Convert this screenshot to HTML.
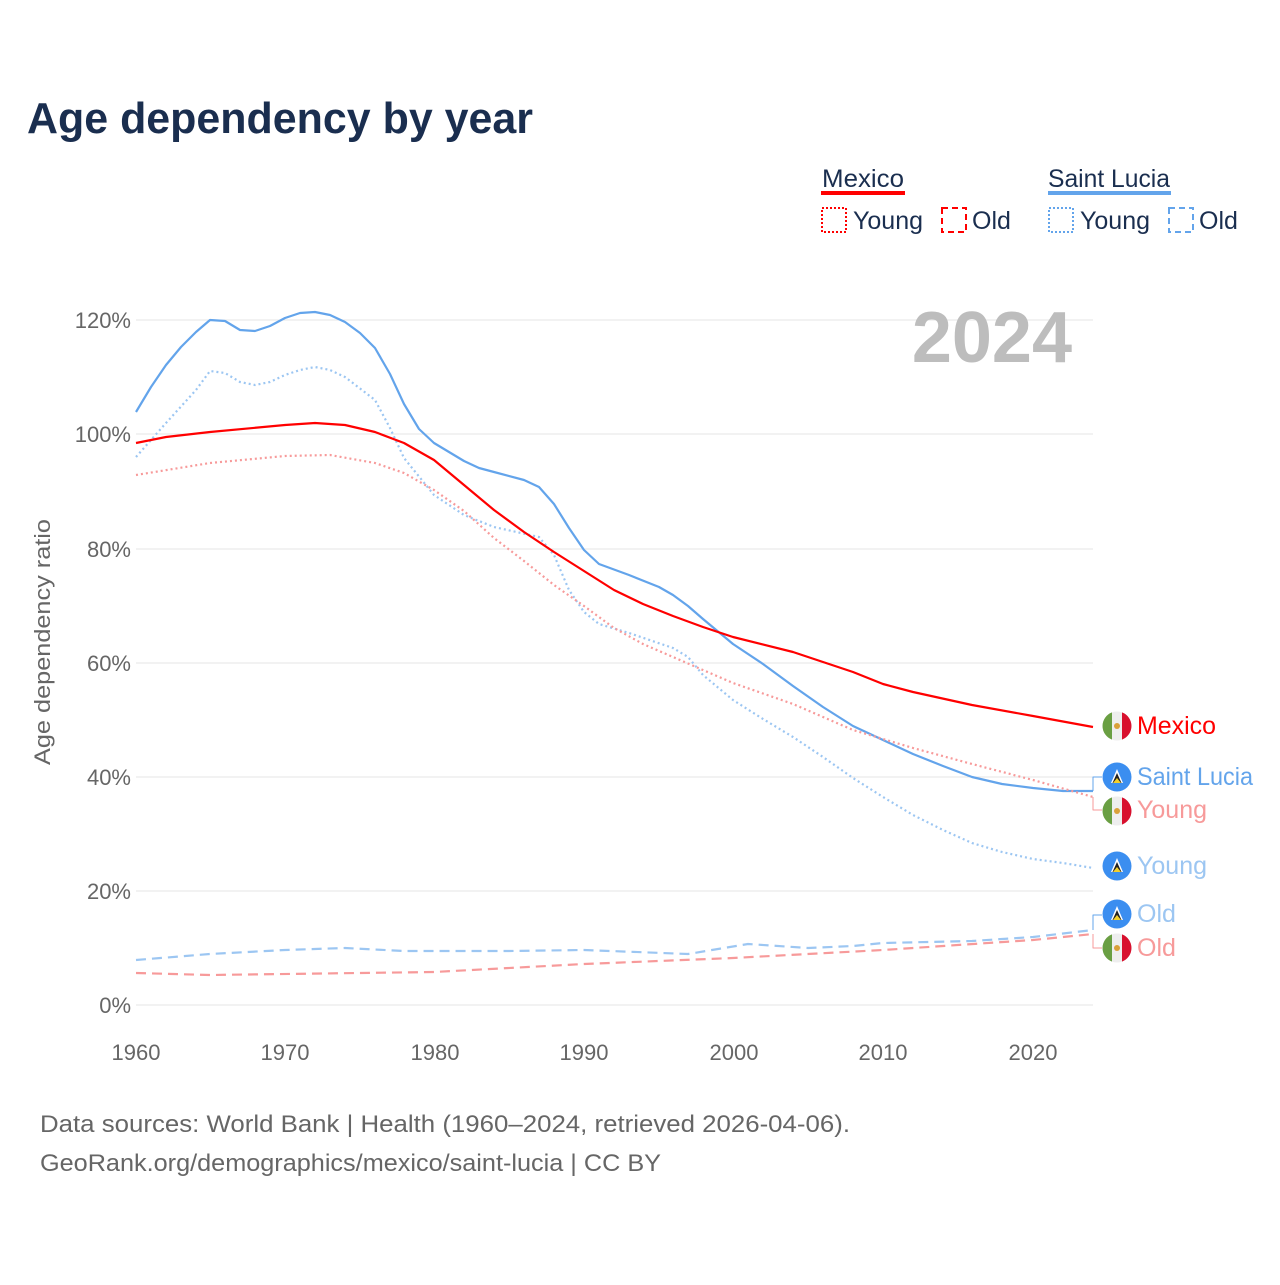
<!DOCTYPE html>
<html><head><meta charset="utf-8"><style>
body{margin:0;background:#fff;width:1280px;height:1280px;overflow:hidden;font-family:"Liberation Sans",sans-serif}
</style></head><body>
<svg width="1280" height="1280" xmlns="http://www.w3.org/2000/svg" font-family="Liberation Sans, sans-serif">
<text x="27" y="133" font-size="44" font-weight="bold" fill="#1a2e4f" textLength="506" lengthAdjust="spacingAndGlyphs">Age dependency by year</text>
<!-- legend -->
<text x="822" y="187" font-size="25" fill="#1a2e4f" textLength="82" lengthAdjust="spacingAndGlyphs">Mexico</text>
<rect x="821" y="191" width="84" height="4" fill="#ff0000"/>
<text x="1048" y="187" font-size="25" fill="#1a2e4f" textLength="122" lengthAdjust="spacingAndGlyphs">Saint Lucia</text>
<rect x="1048" y="191" width="123" height="4" fill="#63a4eb"/>
<rect x="822" y="208" width="24" height="24" fill="none" stroke="#ff0000" stroke-width="2" stroke-dasharray="2,2"/>
<text x="853" y="229" font-size="25" fill="#1a2e4f">Young</text>
<rect x="942" y="208" width="24" height="24" fill="none" stroke="#ff0000" stroke-width="2" stroke-dasharray="6,4"/>
<text x="972" y="229" font-size="25" fill="#1a2e4f">Old</text>
<rect x="1049" y="208" width="24" height="24" fill="none" stroke="#63a4eb" stroke-width="2" stroke-dasharray="2,2"/>
<text x="1080" y="229" font-size="25" fill="#1a2e4f">Young</text>
<rect x="1169" y="208" width="24" height="24" fill="none" stroke="#63a4eb" stroke-width="2" stroke-dasharray="6,4"/>
<text x="1199" y="229" font-size="25" fill="#1a2e4f">Old</text>
<!-- grid -->
<g stroke="#e6e6e6" stroke-width="1">
<line x1="136" x2="1093" y1="320" y2="320"/><line x1="136" x2="1093" y1="434" y2="434"/>
<line x1="136" x2="1093" y1="549" y2="549"/><line x1="136" x2="1093" y1="663" y2="663"/>
<line x1="136" x2="1093" y1="777" y2="777"/><line x1="136" x2="1093" y1="891" y2="891"/>
<line x1="136" x2="1093" y1="1005" y2="1005"/>
</g>
<g font-size="22" fill="#666" text-anchor="end">
<text x="131" y="328">120%</text><text x="131" y="442">100%</text><text x="131" y="557">80%</text>
<text x="131" y="671">60%</text><text x="131" y="785">40%</text><text x="131" y="899">20%</text><text x="131" y="1013">0%</text>
</g>
<g font-size="22" fill="#666" text-anchor="middle">
<text x="136" y="1060">1960</text><text x="285" y="1060">1970</text><text x="435" y="1060">1980</text>
<text x="584" y="1060">1990</text><text x="734" y="1060">2000</text><text x="883" y="1060">2010</text><text x="1033" y="1060">2020</text>
</g>
<text transform="translate(50,642) rotate(-90)" font-size="22" fill="#666" text-anchor="middle" textLength="246" lengthAdjust="spacingAndGlyphs">Age dependency ratio</text>
<text x="1072" y="362" font-size="72" font-weight="bold" fill="#bdbdbd" text-anchor="end">2024</text>
<g fill="none" stroke-width="2.2" stroke-linejoin="round">
<polyline stroke="#63a4eb" points="136,412 151,387 166,365 181,347 196,332 210,320 225,321 240,330 255,331 270,326 285,318 300,313 315,312 330,315 345,322 360,333 375,348 390,374 404,404 419,429 434,443 449,452 464,461 479,468 494,472 524,480 539,487 554,504 569,528 584,550 599,564 629,575 659,587 673,595 688,606 703,619 733,644 763,664 793,686 823,707 853,726 883,740 913,754 943,766 972,777 1002,784 1033,788 1063,791 1093,791"/>
<polyline stroke="#9cc6f2" stroke-dasharray="2,3" points="136,457 166,423 196,390 210,371 225,373 240,382 255,385 270,382 285,375 300,370 315,367 330,370 345,377 375,400 390,428 404,458 434,495 464,515 494,527 539,537 554,555 569,590 584,612 599,624 629,633 673,648 688,657 703,675 733,700 763,719 793,737 823,757 853,778 883,797 913,815 943,830 972,843 1002,852 1033,859 1063,863 1093,868"/>
<polyline stroke="#ff0000" points="136,443 166,437 210,432 285,425 315,423 345,425 375,432 404,443 434,460 464,485 494,510 524,532 554,552 584,571 614,590 643,604 673,616 703,627 733,637 793,652 853,672 883,684 913,692 972,705 1033,716 1093,727"/>
<polyline stroke="#f79a9a" stroke-dasharray="2,3" points="136,475 210,463 285,456 330,455 375,463 404,473 434,490 464,511 494,538 524,561 554,585 584,606 614,628 643,644 673,657 703,670 733,683 793,704 853,730 913,748 972,764 1033,780 1093,797"/>
<polyline stroke="#9cc6f2" stroke-dasharray="10,6" points="136,960 210,954 285,950 345,948 404,951 509,951 584,950 688,954 748,944 808,948 853,946 883,943 972,941 1033,937 1093,930"/>
<polyline stroke="#f79a9a" stroke-dasharray="10,6" points="136,973 210,975 434,972 584,964 733,958 883,950 1033,940 1093,934"/>
<polyline stroke="#63a4eb" stroke-width="1" points="1093,791 1093,777 1102,777"/>
<polyline stroke="#f79a9a" stroke-width="1" points="1093,797 1093,810 1102,810"/>
<polyline stroke="#63a4eb" stroke-width="1" points="1093,930 1093,915 1102,915"/>
<polyline stroke="#f79a9a" stroke-width="1" points="1093,934 1093,948 1102,948"/>
</g>
<defs>
<g id="mx"><circle r="14.5" fill="#eee"/><path d="M-5,-13.6 A14.5,14.5 0 0 0 -5,13.6Z" fill="#6a9f43"/><path d="M5,-13.6 A14.5,14.5 0 0 1 5,13.6Z" fill="#d8102e"/><circle r="3" fill="#d9a03a"/></g>
<g id="lc"><circle r="14.5" fill="#3b8ef0"/><path d="M0,-8 L6,6 L-6,6Z" fill="#fff"/><path d="M0,-4 L4.5,6 L-4.5,6Z" fill="#222"/><path d="M0,1 L4,6 L-4,6Z" fill="#f3d02c"/></g>
</defs>
<use href="#mx" x="1117" y="726"/>
<use href="#lc" x="1117" y="777"/>
<use href="#mx" x="1117" y="811"/>
<use href="#lc" x="1117" y="866"/>
<use href="#lc" x="1117" y="914"/>
<use href="#mx" x="1117" y="948"/>
<g font-size="25">
<text x="1137" y="734" fill="#ff0000" textLength="79" lengthAdjust="spacingAndGlyphs">Mexico</text>
<text x="1137" y="785" fill="#63a4eb" textLength="116" lengthAdjust="spacingAndGlyphs">Saint Lucia</text>
<text x="1137" y="818" fill="#f79a9a">Young</text>
<text x="1137" y="874" fill="#9cc6f2">Young</text>
<text x="1137" y="922" fill="#9cc6f2">Old</text>
<text x="1137" y="956" fill="#f79a9a">Old</text>
</g>
<g font-size="24" fill="#666">
<text x="40" y="1132" textLength="810" lengthAdjust="spacingAndGlyphs">Data sources: World Bank | Health (1960–2024, retrieved 2026-04-06).</text>
<text x="40" y="1171" textLength="621" lengthAdjust="spacingAndGlyphs">GeoRank.org/demographics/mexico/saint-lucia | CC BY</text>
</g>
</svg>
</body></html>
